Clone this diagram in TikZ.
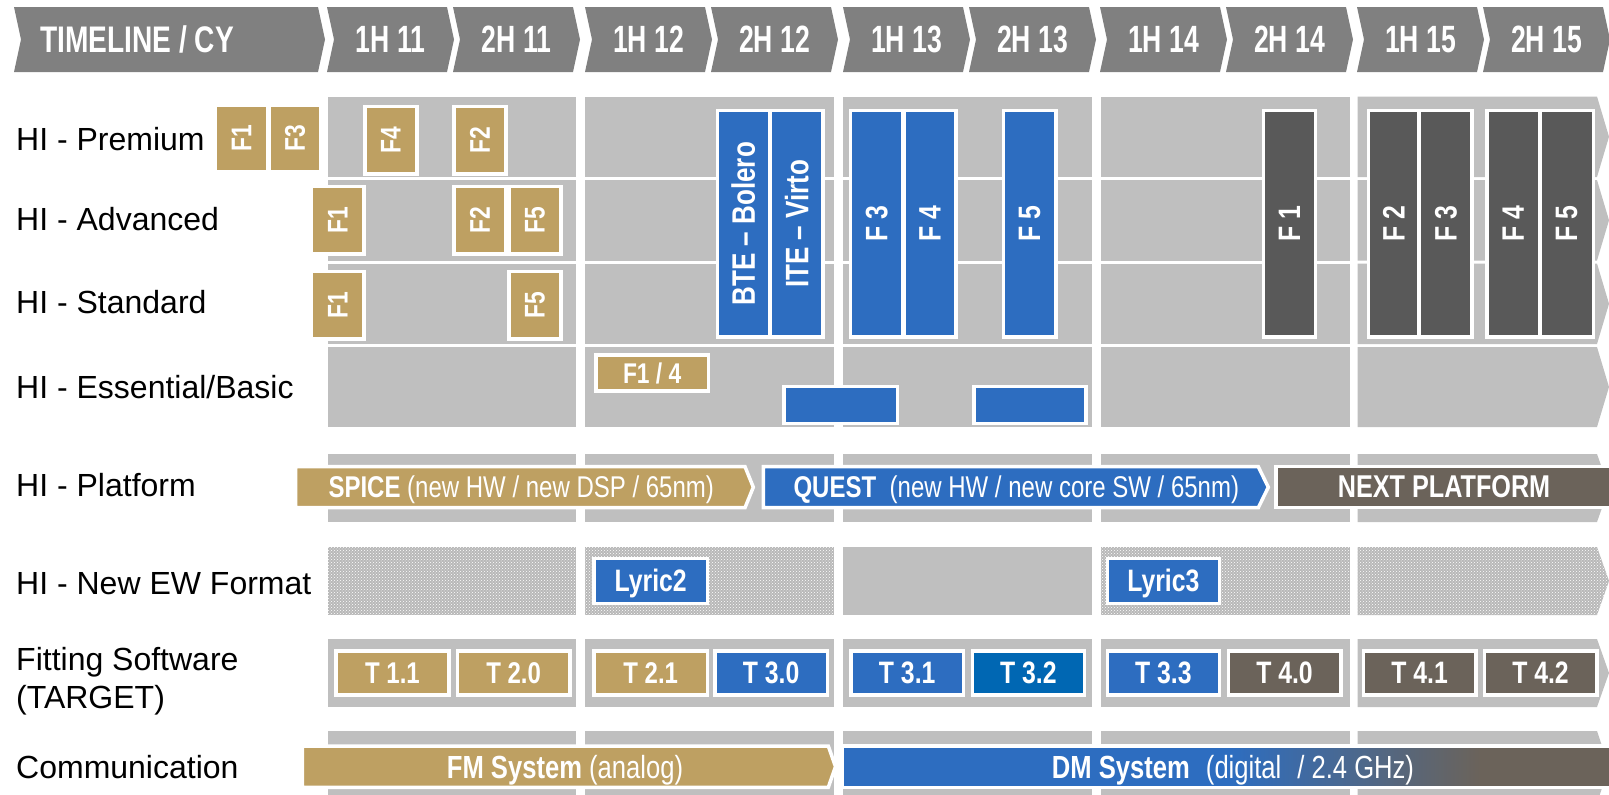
\documentclass[tikz,border=0pt]{standalone}
\usepackage{fontspec}
\setmainfont{Liberation Sans}
\newfontfamily\nf[FakeStretch=0.8]{Liberation Sans}
\newfontfamily\hf[FakeStretch=0.7]{Liberation Sans}
\newfontfamily\tf[FakeStretch=0.76]{Liberation Sans}
\usepackage{graphicx}
\usetikzlibrary{patterns}
\definecolor{hdr}{RGB}{128,128,128}
\definecolor{band}{RGB}{191,191,191}
\definecolor{dotbg}{RGB}{184,184,184}
\definecolor{gold}{RGB}{190,160,98}
\definecolor{blu}{RGB}{45,109,192}
\definecolor{blutwo}{RGB}{0,103,179}
\definecolor{dgray}{RGB}{89,89,89}
\definecolor{brn}{RGB}{107,99,90}
\tikzset{
  lbl/.style={anchor=west, inner sep=0pt, font=\fontsize{32}{38}\selectfont, text=black, text height=23pt, text depth=0pt},
  htxt/.style={inner sep=0pt, text=white, font=\hf\bfseries\fontsize{38}{38}\selectfont},
  bx/.style={rectangle, draw=white, line width=3.5pt, inner sep=0pt, text=white, font=\nf\bfseries\fontsize{31}{31}\selectfont},
  gbx/.style={fill=gold, font=\nf\bfseries\fontsize{28.5}{28.5}\selectfont},
  hz/.style={text height=21.5pt, text depth=0pt},
  wline/.style={draw=white, line width=3.5pt, line join=miter},
  atxt/.style={inner sep=0pt, text=white, font=\nf\fontsize{30}{30}\selectfont, text height=21.5pt, text depth=0pt},
}
\newcommand\chevshape[6]{\fill[#6] ({#1},{#3}) -- ({#2},{#3}) -- ({#2+#5},{(#3+#4)/2}) -- ({#2},{#4}) -- ({#1},{#4}) -- ({#1+#5},{(#3+#4)/2}) -- cycle;}
\newcommand\arrshape[6]{\path[#6] ({#1},{#3}) -- ({#2},{#3}) -- ({#2+#5},{(#3+#4)/2}) -- ({#2},{#4}) -- ({#1},{#4}) -- cycle;}
\newcommand\mybox[7]{\node[bx,#6,minimum width={#4-#2+3.5},minimum height={#5-#3+3.5}] (#1) at ({(#2+#4)/2},{(#3+#5)/2}) {#7};}
\newcommand\myvt[1]{\rotatebox{90}{#1}}
\begin{document}
\begin{tikzpicture}[x=1pt,y=-1pt]
\useasboundingbox (0,0) rectangle (1609,795);
\clip (0,0) rectangle (1609,795);
% ---------- header ----------
\chevshape{14}{318}{7}{72}{7}{hdr}
\node[htxt, anchor=west, font=\tf\bfseries\fontsize{37}{37}\selectfont] (tl) at (40,39.5) {TIMELINE / CY};
\foreach \ys/\yy in {327/11,585/12,843/13,1100/14,1357/15}{
  \chevshape{\ys}{\ys+120}{7}{72}{7}{hdr}
  \chevshape{\ys+126}{\ys+246}{7}{72}{7}{hdr}
  \node[htxt] (ha\yy) at ({\ys+63.5},39.5) {1H \yy};
  \node[htxt] (hb\yy) at ({\ys+189.5},39.5) {2H \yy};
}
% ---------- gray bands ----------
\foreach \tp/\bt in {96.5/177,180/260.5,263.5/344,347/427,454/522,639/707,731/803}{
  \foreach \xl/\xr in {327.5/576,585/834,843/1092,1100.5/1349.5}{
    \fill[band] (\xl,\tp) rectangle (\xr,\bt);
  }
  \arrshape{1357.5}{1597}{\tp}{\bt}{12}{fill=band}
}
% new EW format row (dotted)
\foreach \xl/\xr in {327.5/576,585/834,1100.5/1349.5}{
  \fill[dotbg] (\xl,547) rectangle (\xr,615);
  \fill[pattern=crosshatch dots, pattern color=white] (\xl,547) rectangle (\xr,615);
}
\fill[band] (843,547) rectangle (1092,615);
\arrshape{1357.5}{1597}{547}{615}{12}{fill=dotbg}
\arrshape{1357.5}{1597}{547}{615}{12}{pattern=crosshatch dots, pattern color=white}
% ---------- row labels ----------
\node[lbl] (lprem) at (16,138.5) {HI - Premium};
\node[lbl] (ladv) at (16,219) {HI - Advanced};
\node[lbl] (lstd) at (16,302) {HI - Standard};
\node[lbl] (less) at (16,387) {HI - Essential/Basic};
\node[lbl] (lplat) at (16,485) {HI - Platform};
\node[lbl] (lew) at (16,583) {HI - New EW Format};
\node[lbl, text height=, text depth=, align=left] (lfit) at (16,681) {Fitting Software\\(TARGET)};
\node[lbl] (lcom) at (16,767) {Communication};
% ---------- gold feature boxes ----------
\mybox{pf1}{217}{107}{266}{170}{gbx}{\myvt{F1}}
\mybox{pf3}{271}{107}{319}{170}{gbx}{\myvt{F3}}
\mybox{pf4}{366.7}{108.3}{415}{172.3}{gbx}{\myvt{F4}}
\mybox{pf2}{455.7}{108.3}{504.3}{172.3}{gbx}{\myvt{F2}}
\mybox{af1}{313.3}{188.3}{362.3}{252.3}{gbx}{\myvt{F1}}
\mybox{af2}{455.7}{188.3}{504.3}{252.3}{gbx}{\myvt{F2}}
\mybox{af5}{510.7}{188.3}{559.3}{252.3}{gbx}{\myvt{F5}}
\mybox{sf1}{313.3}{273.3}{362.3}{337.3}{gbx}{\myvt{F1}}
\mybox{sf5}{510.7}{273.3}{559.3}{337.3}{gbx}{\myvt{F5}}
\mybox{ef14}{597.7}{356.7}{706.7}{389}{gbx,hz}{F1 / 4}
% ---------- blue feature boxes ----------
\mybox{bte}{719}{112.3}{767.7}{335}{fill=blu,font=\nf\bfseries\fontsize{32.5}{32.5}\selectfont}{\myvt{BTE – Bolero}}
\mybox{ite}{772.3}{112.3}{821}{335}{fill=blu,font=\nf\bfseries\fontsize{32.5}{32.5}\selectfont}{\myvt{ITE – Virto}}
\mybox{bf3}{852.3}{112.3}{901}{335}{fill=blu}{\myvt{F 3}}
\mybox{bf4}{905.7}{112.3}{954.3}{335}{fill=blu}{\myvt{F 4}}
\mybox{bf5}{1005}{112.3}{1054.3}{335}{fill=blu}{\myvt{F 5}}
\mybox{be1}{785.7}{388.3}{895.7}{421.7}{fill=blu}{}
\mybox{be2}{975.7}{388.3}{1084.3}{421.7}{fill=blu}{}
% ---------- dark feature boxes ----------
\mybox{df1}{1265}{112.3}{1313.8}{335}{fill=dgray}{\myvt{F 1}}
\mybox{df2}{1370.2}{112.3}{1417.4}{335}{fill=dgray}{\myvt{F 2}}
\mybox{df3}{1421.4}{112.3}{1470.4}{335}{fill=dgray}{\myvt{F 3}}
\mybox{df4}{1488.9}{112.3}{1537.5}{335}{fill=dgray}{\myvt{F 4}}
\mybox{df5}{1541.9}{112.3}{1591.5}{335}{fill=dgray}{\myvt{F 5}}
% ---------- platform arrows ----------
\arrshape{295.7}{745}{466.7}{507.7}{8.3}{fill=gold, wline}
\arrshape{763.3}{1258.3}{466.7}{507.7}{10}{fill=blu, wline}
\path[fill=brn, wline] (1276,466.7) rectangle (1625,507.7);
\node[atxt, anchor=west] (spice) at (328.3,487.2) {{\bfseries SPICE} (new HW / new DSP / 65nm)};
\node[atxt, anchor=west] (quest) at (793.3,487.2) {{\bfseries QUEST}\hspace{0.45em}(new HW / new core SW / 65nm)};
\node[atxt, font=\nf\bfseries\fontsize{31.5}{31.5}\selectfont] (next) at (1444,487.2) {NEXT PLATFORM};
% ---------- EW format boxes ----------
\mybox{ly2}{595.7}{560}{705.7}{601.7}{fill=blu,hz}{Lyric2}
\mybox{ly3}{1109}{560}{1217.7}{601.7}{fill=blu,hz}{Lyric3}
% ---------- fitting software ----------
\mybox{t11}{337.7}{652.7}{447.3}{693.3}{gbx,hz,font=\nf\bfseries\fontsize{30}{30}\selectfont}{T 1.1}
\mybox{t20}{459}{652.7}{568.3}{693.3}{gbx,hz,font=\nf\bfseries\fontsize{30}{30}\selectfont}{T 2.0}
\mybox{t21}{595.7}{652.7}{705.7}{693.3}{gbx,hz,font=\nf\bfseries\fontsize{30}{30}\selectfont}{T 2.1}
\mybox{t30}{716.7}{652.7}{825.5}{693.3}{fill=blu,hz}{T 3.0}
\mybox{t31}{852.7}{652.7}{961.7}{693.3}{fill=blu,hz}{T 3.1}
\mybox{t32}{974}{652.7}{1082.7}{693.3}{fill=blutwo,hz}{T 3.2}
\mybox{t33}{1109}{652.7}{1217.7}{693.3}{fill=blu,hz}{T 3.3}
\mybox{t40}{1230}{652.7}{1339}{693.3}{fill=brn,hz}{T 4.0}
\mybox{t41}{1365}{652.7}{1474.3}{693.3}{fill=brn,hz}{T 4.1}
\mybox{t42}{1486}{652.7}{1595}{693.3}{fill=brn,hz}{T 4.2}
% ---------- communication ----------
\arrshape{302.3}{828.3}{746}{787.3}{7.2}{fill=gold, wline}
\fill[blu] (842.3,746) rectangle (1231,787.3);
\shade[left color=blu, right color=brn] (1230,746) rectangle (1481,787.3);
\fill[brn] (1480,746) rectangle (1625,787.3);
\draw[white, line width=3.5pt] (842.3,746) rectangle (1625,787.3);
\node[atxt, font=\nf\fontsize{32}{32}\selectfont, text height=23pt] (fm) at (565,766.6) {{\bfseries FM System} (analog)};
\node[atxt, font=\nf\fontsize{32}{32}\selectfont, text height=23pt] (dm) at (1233,766.6) {{\bfseries DM System}\hspace{0.5em}(digital\hspace{0.5em}/ 2.4 GHz)};
\end{tikzpicture}
\end{document}
